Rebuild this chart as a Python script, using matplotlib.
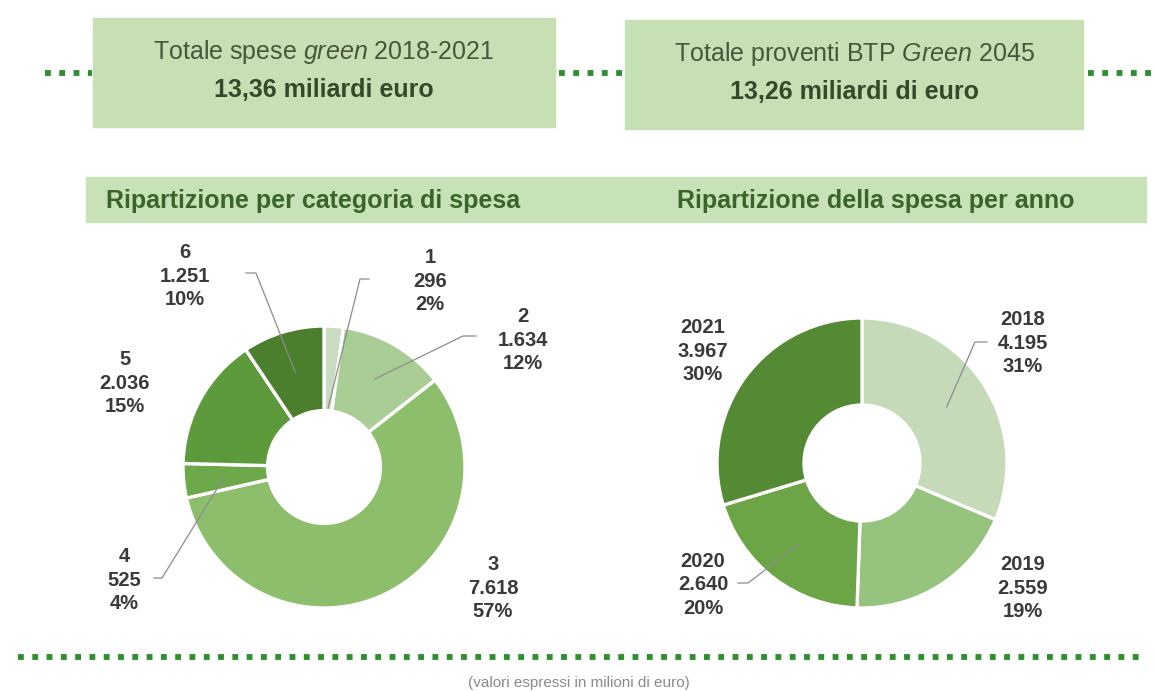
import numpy as np
import matplotlib
matplotlib.use("Agg")
import matplotlib.pyplot as plt
from matplotlib.patches import Rectangle

plt.rcParams['font.family'] = ['Liberation Sans', 'DejaVu Sans']
plt.rcParams['mathtext.fontset'] = 'custom'
plt.rcParams['mathtext.rm'] = 'Liberation Sans'
plt.rcParams['mathtext.it'] = 'Liberation Sans:italic'
plt.rcParams['mathtext.bf'] = 'Liberation Sans:bold'

# spesa per categoria (milioni di euro)
cat_labels = ['1', '2', '3', '4', '5', '6']
cat_values = [296, 1634, 7618, 525, 2036, 1251]
cat_pct = [2, 12, 57, 4, 15, 10]
cat_colors = ['#c9dcc2', '#a9cd94', '#8dbe6c', '#6da84b', '#5d9a3c', '#4c7f2d']

# spesa per anno (milioni di euro)
year_labels = ['2018', '2019', '2020', '2021']
year_values = [4195, 2559, 2640, 3967]
year_pct = [31, 19, 20, 30]
year_colors = ['#c5dab9', '#96c47e', '#6ca546', '#548a33']

W, H = 1155, 691
fig = plt.figure(figsize=(W / 100, H / 100), dpi=100)
ax = fig.add_axes([0, 0, 1, 1])


def Y(y):
    # pixel rows run downwards, data y runs upwards
    return H - y


BOX = '#c6dfb5'
DOT = '#2e8f2e'
LABEL = '#3a3a3a'
LEADER = '#8c8c8c'


def dots(x0, x1, y):
    ax.plot([x0, x1], [Y(y), Y(y)], color=DOT, lw=4.2,
            linestyle=(0, (1, 1.45)), solid_capstyle='butt',
            dash_capstyle='butt', zorder=1)


# top summary boxes joined by dotted lines
dots(45, 92, 73)
dots(559, 622, 73)
dots(1088, 1152, 73)
ax.add_patch(Rectangle((93, Y(127)), 462, 109, color=BOX, zorder=2))
ax.add_patch(Rectangle((625, Y(129)), 458, 109, color=BOX, zorder=2))
ax.text(324, Y(52), r'Totale spese $\mathit{green}$ 2018-2021', ha='center',
        va='center', fontsize=18, color='#46573c', zorder=3)
ax.text(324, Y(90), '13,36 miliardi euro', ha='center', va='center',
        fontsize=18, fontweight='bold', color='#33492a', zorder=3)
ax.text(854, Y(54), r'Totale proventi BTP $\mathit{Green}$ 2045', ha='center',
        va='center', fontsize=18, color='#46573c', zorder=3)
ax.text(854, Y(92), '13,26 miliardi di euro', ha='center', va='center',
        fontsize=18, fontweight='bold', color='#33492a', zorder=3)

# section header band
ax.add_patch(Rectangle((86, Y(222)), 1060, 45, color='#c8e2b8', zorder=2))
ax.text(313, Y(201), 'Ripartizione per categoria di spesa', ha='center',
        va='center', fontsize=18, fontweight='bold', color='#3b642b', zorder=3)
ax.text(876, Y(201), 'Ripartizione della spesa per anno', ha='center',
        va='center', fontsize=18, fontweight='bold', color='#3b642b', zorder=3)


def donut(values, colors, cx, cy, r):
    wedges, _ = ax.pie(values, colors=colors, center=(cx, Y(cy)), radius=r,
                       startangle=90, counterclock=False, frame=True,
                       wedgeprops=dict(width=r * 0.6, edgecolor='white',
                                       linewidth=2.4))
    return wedges


def fmt(v):
    return f'{v:,}'.replace(',', '.')


def label(x, y, name, v, p):
    ax.text(x, Y(y), f'{name}\n{fmt(v)}\n{p}%', ha='center', va='center',
            fontsize=14.5, fontweight='bold', color=LABEL, linespacing=1.3)


def leader(wedge, cx, cy, r, frac, elbow, end):
    ang = np.deg2rad((wedge.theta1 + wedge.theta2) / 2)
    px = cx + r * frac * np.cos(ang)
    py = Y(cy) + r * frac * np.sin(ang)
    ax.plot([px, elbow[0], end[0]], [py, Y(elbow[1]), Y(end[1])],
            color=LEADER, lw=0.9, zorder=5)


# categoria
c1 = (324, 467, 141)
w1 = donut(cat_values, cat_colors, *c1)
cat_pos = [(430, 281), (523, 340), (493, 588), (124, 580), (125, 383), (185, 276)]
for (x, y), n, v, p in zip(cat_pos, cat_labels, cat_values, cat_pct):
    label(x, y, n, v, p)
leader(w1[0], *c1, 0.42, (360, 279), (369, 279))
leader(w1[1], *c1, 0.72, (463, 336), (476, 336))
leader(w1[3], *c1, 0.71, (162, 578), (154, 578))
leader(w1[5], *c1, 0.70, (256, 273), (246, 273))

# anno
c2 = (862, 463, 145)
w2 = donut(year_values, year_colors, *c2)
year_pos = [(1023, 343), (1023, 588), (703, 585), (703, 351)]
for (x, y), n, v, p in zip(year_pos, year_labels, year_values, year_pct):
    label(x, y, n, v, p)
leader(w2[0], *c2, 0.70, (975, 342), (987, 342))
leader(w2[2], *c2, 0.70, (748, 583), (738, 583))

# bottom rule and note
dots(18, 1142, 657)
ax.text(579, Y(683), '(valori espressi in milioni di euro)', ha='center',
        va='center', fontsize=11, color='#8a8a8a')

ax.set_xlim(0, W)
ax.set_ylim(0, H)
ax.set_aspect('auto')
ax.axis('off')

fig.savefig('out.png', dpi=100, facecolor='white')
